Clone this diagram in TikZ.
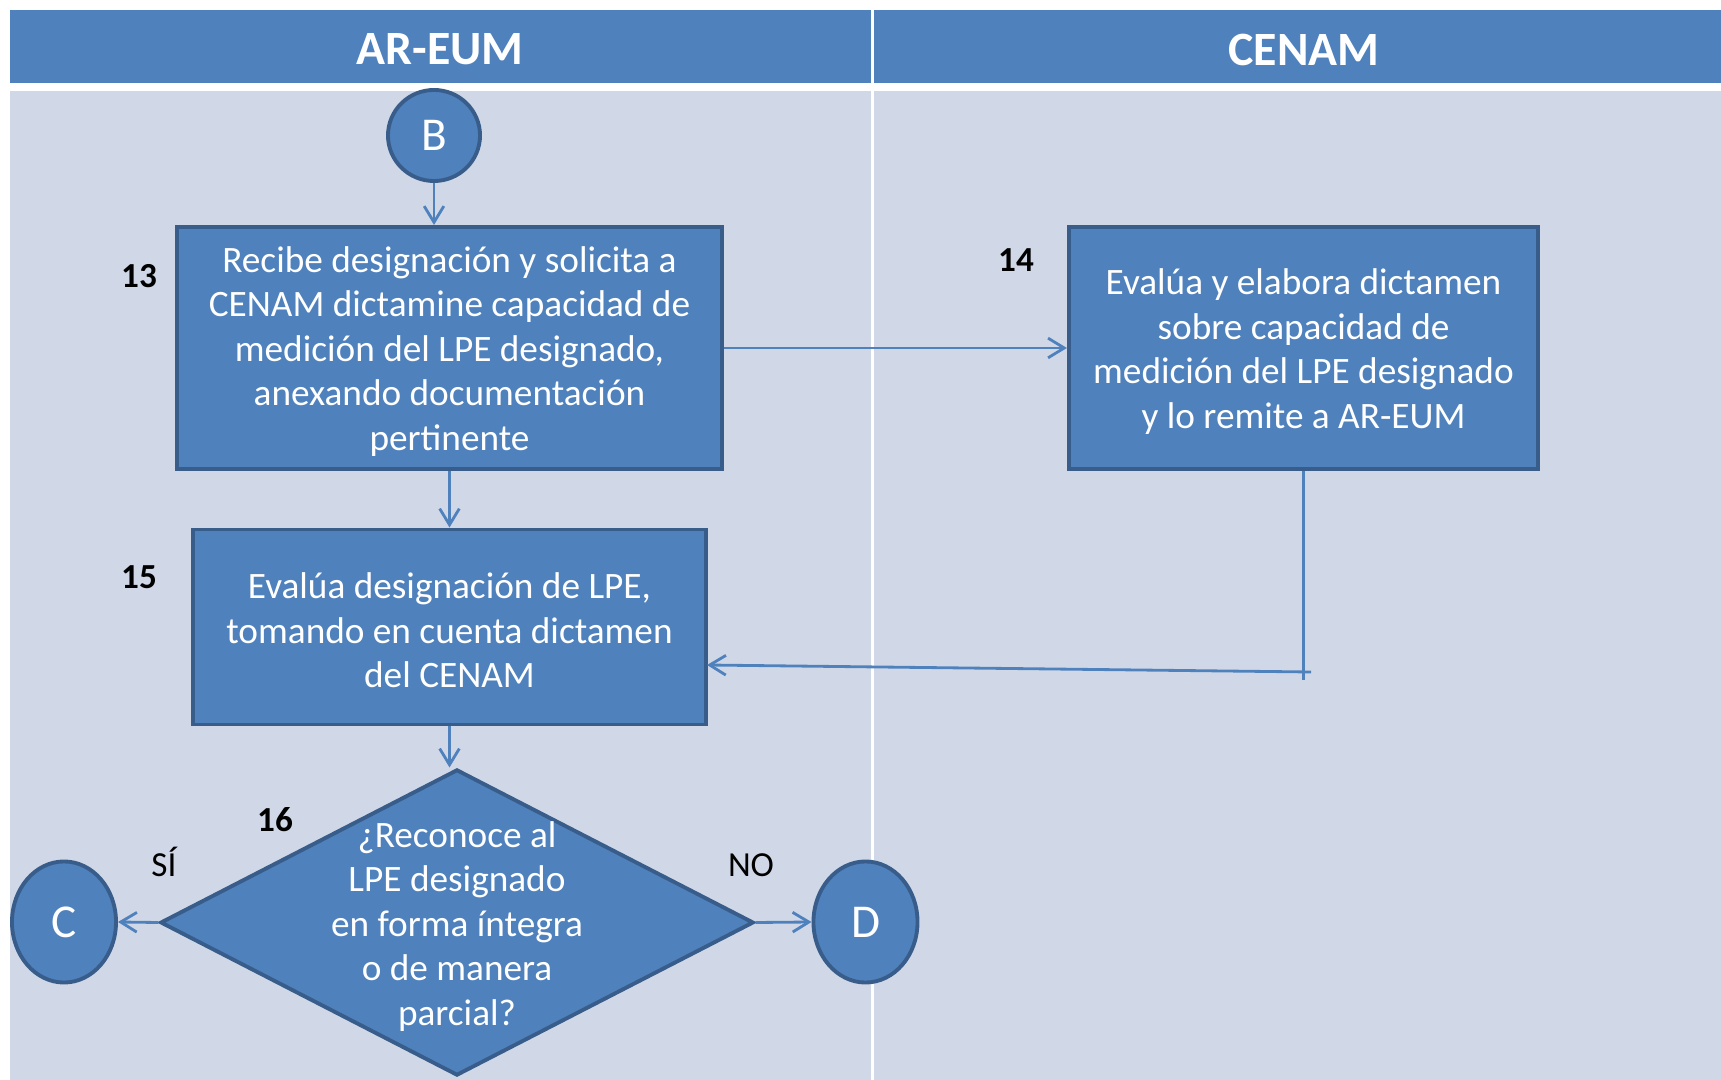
\documentclass[tikz,border=0pt]{standalone}
\usepackage{fontspec}
\setmainfont{Carlito}
\usetikzlibrary{shapes.geometric,arrows.meta}
\definecolor{boxfill}{HTML}{4F81BD}
\definecolor{boxline}{HTML}{385D8A}
\definecolor{lanebg}{HTML}{D0D8E8}
\tikzset{
  proc/.style={draw=boxline, line width=1.1pt, fill=boxfill, inner sep=0pt},
  ptext/.style={text=white, align=center, inner sep=0pt, font=\fontsize{10.6}{12.66}\selectfont},
  dshape/.style={diamond, draw=boxline, line width=1.1pt, fill=boxfill, inner sep=0pt},
  connector/.style={ellipse, draw=boxline, line width=1.1pt, fill=boxfill, text=white,
    inner sep=0pt, font=\fontsize{13.4}{16}\selectfont},
  flow/.style={draw=boxfill, line width=0.8pt, -{Straight Barb[length=4.6pt,width=5.6pt]}},
  plain/.style={draw=boxfill, line width=0.8pt},
  numlabel/.style={text=black, inner sep=0pt, font=\fontsize{10}{12}\selectfont\bfseries},
  anslabel/.style={text=black, inner sep=0pt, font=\fontsize{10}{12}\selectfont},
  lanehead/.style={text=white, inner sep=0pt, font=\fontsize{13.6}{16}\selectfont\bfseries},
}
\begin{document}
\begin{tikzpicture}[x=0.01cm,y=-0.01cm]
\useasboundingbox (0,0) rectangle (1721,1080);
\fill[white] (0,0) rectangle (1721,1080);
% lanes
\fill[boxfill] (10,10) rectangle (1721,83);
\fill[lanebg] (10,91) rectangle (1721,1080);
\draw[white, line width=0.85pt] (872,10) -- (872,1080);
\node[lanehead] (h1) at (440,49.5) {AR-EUM};
\node[lanehead] (h2) at (1304,49.5) {CENAM};

% nodes
\node[connector, minimum width=0.92cm, minimum height=0.91cm] (B) at (434,135.5) {B};
\node[proc, minimum width=5.44cm, minimum height=2.42cm] (s13) at (449.5,348) {};
\node[ptext] (t13) at (449.5,351.5)
  {Recibe designación y solicita a\\CENAM dictamine capacidad de\\medición del LPE designado,\\anexando documentación\\pertinente};
\node[proc, minimum width=4.69cm, minimum height=2.42cm] (s14) at (1303.5,348) {};
\node[ptext] (t14) at (1303.5,351.5)
  {Evalúa y elabora dictamen\\sobre capacidad de\\medición del LPE designado\\y lo remite a AR-EUM};
\node[proc, minimum width=5.13cm, minimum height=1.95cm] (s15) at (449.5,627) {};
\node[ptext] (t15) at (449.5,630.5)
  {Evalúa designación de LPE,\\tomando en cuenta dictamen\\del CENAM};
\node[dshape, minimum width=5.93cm, minimum height=3.06cm] (dia) at (457,922.5) {};
\node[ptext] (diat) at (457,926.5) {¿Reconoce al\\LPE designado\\en forma íntegra\\o de manera\\parcial?};
\node[connector, minimum width=1.04cm, minimum height=1.21cm] (C) at (64,922) {C};
\node[connector, minimum width=1.04cm, minimum height=1.21cm] (D) at (865.5,922) {D};

% labels
\node[numlabel] (n13) at (139,276) {13};
\node[numlabel] (n14) at (1016,260.5) {14};
\node[numlabel] (n15) at (139,577.5) {15};
\node[numlabel] (n16) at (275,819.5) {16};
\node[anslabel] (si) at (164,862) {SÍ};
\node[anslabel] (no) at (751,865) {NO};

% connectors
\draw[flow] (B.south) -- (B.south |- s13.north);
\draw[flow] (s13.east) -- (s14.west);
\draw[flow] (s13.south) -- (s15.north);
\coordinate (k0) at (1303.5,680);
\coordinate (k1) at (1311,672);
\coordinate (k2) at (707,665);
\draw[plain] (s14.south) -- (k0);
\draw[flow] (k1) -- (k2);
\draw[flow] (s15.south) -- (s15.south |- dia.north);
\draw[flow] (dia.west) -- (C.east);
\draw[flow] (dia.east) -- (D.west);
\end{tikzpicture}
\end{document}
